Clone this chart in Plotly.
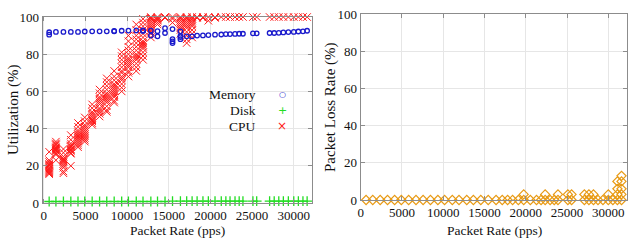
import plotly.graph_objects as go

# ---------------- data ----------------
rates = [650, 1460, 2360, 3250, 4110, 4920, 5810, 6700, 7560, 8450,
         9350, 10160, 11100, 11910, 12850, 13650, 14550, 15450, 16400, 17150,
         17800, 18400, 19100, 19750, 20550, 21300, 21850, 22350, 22950, 23450,
         23900, 25100, 25550, 27100, 27650, 28200, 28750, 29350, 30000, 30550,
         31100, 31600]

memory = [[90.5, 91.8], [92.0], [92.0], [92.0], [92.0], [92.2], [92.3], [92.3], [92.3], [92.5, 92.3],
          [92.6], [92.7], [92.8], [92.8, 92.5], [92.7, 90.0], [89.6, 92.4], [94.0, 91.4], [93.5, 88.1, 86.9, 86.0], [92.3, 89.9, 89.2, 88.1], [89.6],
          [89.6], [90.0], [90.1], [90.3], [90.5], [90.6], [90.8], [90.8], [90.9], [91.0],
          [91.0], [91.2], [91.2], [91.4], [91.4], [91.5], [91.7], [91.9], [92.0], [92.2],
          [92.3], [92.6]]

disk = [[0.8], [0.8], [0.8], [0.8], [0.8], [0.8], [0.8], [0.8], [0.8], [0.8],
        [0.8], [0.8], [0.8], [0.8], [0.8], [0.8], [0.8], [1.0], [1.0], [1.0],
        [1.0], [1.0], [1.0], [1.0], [1.0], [1.0], [1.0], [1.0], [1.0], [1.0],
        [1.0], [1.0], [1.0], [1.0], [1.0], [1.0], [1.0], [1.0], [1.0], [1.0],
        [1.0], [1.0]]

cpu = [[27.5, 23, 22, 21, 20.5, 20, 19, 18.5, 18, 17.5, 17, 16.5, 16, 15.5],
       [33, 32, 31.5, 31, 30, 29.5, 29, 28.5, 28, 27, 26.5, 26, 23],
       [29, 27, 25, 24, 23.5, 23, 22.5, 22, 21, 20, 19, 17, 16],
       [36.5, 34, 32, 31, 30.5, 30, 29, 28.5, 28, 27, 26.5, 20],
       [43, 41, 39, 38, 37, 36, 35, 34, 33, 32, 31, 30],
       [46, 44, 42, 41, 40, 39, 38, 37, 36, 35, 34, 33],
       [53, 51, 49, 48, 47, 46, 45, 44.5, 44, 43, 42],
       [61, 59, 57, 56, 55, 54, 53, 51, 50, 49, 48, 46.5],
       [67, 65, 63, 61, 59, 58, 57, 56, 55, 54, 52, 50, 49],
       [71, 68, 66, 64, 63, 62, 61, 60, 59, 58, 57, 55, 54],
       [81, 79, 77, 75, 73, 71, 70, 68, 67, 66, 64, 62, 60],
       [90, 87, 84, 82, 80, 78, 77, 76, 75, 74, 73, 71, 70, 68],
       [96, 93, 90, 88, 86, 84, 82, 80, 79, 78, 77, 75, 73, 71],
       [99, 97, 95, 93, 91, 89, 87, 86, 85, 84, 83, 81, 79, 77],
       [100, 99.5, 99, 98, 97, 96, 95, 94, 93, 92, 91, 89],
       [100, 99.5, 99, 98.5, 98, 97, 96],
       [100, 99.5],
       [100, 99, 97],
       [100, 99.5, 99, 98, 97, 96, 95, 94, 93, 91],
       [100, 99.5, 99, 98, 97, 96, 95, 94, 92, 90, 88, 86],
       [100, 99, 98, 97, 96, 95, 93, 91, 89],
       [100, 99.5],
       [100, 99.5],
       [100, 98],
       [100, 99.5],
       [100], [100], [100], [100], [100],
       [100], [100], [100], [100], [100],
       [100], [100], [100], [100], [100],
       [100], [100]]

loss = [[0], [0], [0], [0], [0], [0], [0], [0], [0], [0],
        [0], [0], [0], [0], [0], [0], [0], [0], [0], [0],
        [0], [0], [0], [0, 3], [0], [0], [0], [0, 3], [0], [0],
        [0, 3], [0, 3], [0, 3], [0, 3], [0, 3], [0, 3], [0], [0], [0, 3], [0],
        [0, 3, 6, 10], [0, 3, 6, 10, 13]]

x_ticks = [0, 5000, 10000, 15000, 20000, 25000, 30000]
y_ticks = [0, 20, 40, 60, 80, 100]
legend_labels = ["Memory", "Disk", "CPU"]
x_title = "Packet Rate (pps)"
y_title_left = "Utilization (%)"
y_title_right = "Packet Loss Rate (%)"


def flatten(groups):
    xs, ys = [], []
    for r, vals in zip(rates, groups):
        for v in vals:
            xs.append(r)
            ys.append(v)
    return xs, ys


FONT = "Liberation Serif"
W, H = 634, 247
BLUE = "#1a1acc"
GREEN = "#22dd22"
RED = "#ff1a1a"
ORANGE = "#e89a14"

fig = go.Figure()

mx, my = flatten(memory)
dx, dy = flatten(disk)
cx, cy = flatten(cpu)
lx, ly = flatten(loss)

fig.add_trace(go.Scatter(x=cx, y=cy, mode="markers", xaxis="x", yaxis="y",
                         marker=dict(symbol="x-thin-open", size=7.5, color=RED,
                                     line=dict(width=1, color=RED)),
                         cliponaxis=False, showlegend=False))
fig.add_trace(go.Scatter(x=mx, y=my, mode="markers", xaxis="x", yaxis="y",
                         marker=dict(symbol="circle-open", size=4.5, color=BLUE,
                                     line=dict(width=1.3, color=BLUE)),
                         cliponaxis=False, showlegend=False))
fig.add_trace(go.Scatter(x=dx, y=dy, mode="markers", xaxis="x", yaxis="y",
                         marker=dict(symbol="cross-thin-open", size=7, color=GREEN,
                                     line=dict(width=1.3, color=GREEN)),
                         cliponaxis=False, showlegend=False))
fig.add_trace(go.Scatter(x=lx, y=ly, mode="markers", xaxis="x2", yaxis="y2",
                         marker=dict(symbol="diamond-open", size=7, color=ORANGE,
                                     line=dict(width=1.2, color=ORANGE)),
                         cliponaxis=False, showlegend=False))

axis_common = dict(
    showline=True, linecolor="#8c8c8c", linewidth=1, mirror="ticks",
    ticks="inside", ticklen=4, tickcolor="#8c8c8c",
    showgrid=True, gridcolor="#e6e6e6", gridwidth=1, zeroline=False,
    automargin=False,
    tickfont=dict(family=FONT, size=13, color="#111"),
)

L_X = [42.5, 311.7]
L_Y = [17, 203]
R_X = [360.7, 627.3]
R_Y = [14, 200]

fig.update_layout(
    width=W, height=H,
    margin=dict(l=0, r=0, t=0, b=0, autoexpand=False),
    plot_bgcolor="white", paper_bgcolor="white",
    font=dict(family=FONT, color="#111"),
    xaxis=dict(domain=[L_X[0] / W, L_X[1] / W], range=[-150, 32150],
               tickvals=x_ticks, ticktext=[str(v) for v in x_ticks],
               anchor="y", **axis_common),
    yaxis=dict(domain=[1 - L_Y[1] / H, 1 - L_Y[0] / H], range=[0, 100],
               tickvals=y_ticks, anchor="x", **axis_common),
    xaxis2=dict(domain=[R_X[0] / W, R_X[1] / W], range=[0, 32300],
                tickvals=x_ticks, ticktext=[str(v) for v in x_ticks],
                anchor="y2", **axis_common),
    yaxis2=dict(domain=[1 - R_Y[1] / H, 1 - R_Y[0] / H], range=[0, 100],
                tickvals=y_ticks, anchor="x2", **axis_common),
)

# axis titles
for txt, px, py, ang, sz in [
    (x_title, (L_X[0] + L_X[1]) / 2, 230, 0, 13.5),
    (x_title, (R_X[0] + R_X[1]) / 2, 230, 0, 13.5),
    (y_title_left, 13, (L_Y[0] + L_Y[1]) / 2, -90, 15),
    (y_title_right, 330, (R_Y[0] + R_Y[1]) / 2, -90, 15),
]:
    fig.add_annotation(x=px / W, y=1 - py / H, xref="paper", yref="paper",
                       text=txt, showarrow=False, textangle=ang,
                       xanchor="center", yanchor="middle",
                       font=dict(family=FONT, size=sz, color="#111"))

# legend drawn as text: right-aligned labels with a symbol glyph to their right
legend_syms = ["○", "+", "×"]
legend_sizes = [8, 11, 12]
legend_cols = [BLUE, GREEN, RED]
legend_y = [95, 110, 126]
for lab, sym, sz, col, yy in zip(legend_labels, legend_syms, legend_sizes, legend_cols, legend_y):
    fig.add_annotation(x=258 / W, y=1 - yy / H, xref="paper", yref="paper",
                       text=lab, showarrow=False, xanchor="right", yanchor="middle",
                       font=dict(family=FONT, size=13.5, color="#111"))
    fig.add_annotation(x=282 / W, y=1 - yy / H, xref="paper", yref="paper",
                       text=sym, showarrow=False, xanchor="center", yanchor="middle",
                       font=dict(family="DejaVu Sans", size=sz, color=col))

fig.write_html("out.html", config={"displayModeBar": False},
               post_script="document.body.style.margin='0';document.body.style.overflow='hidden';")
